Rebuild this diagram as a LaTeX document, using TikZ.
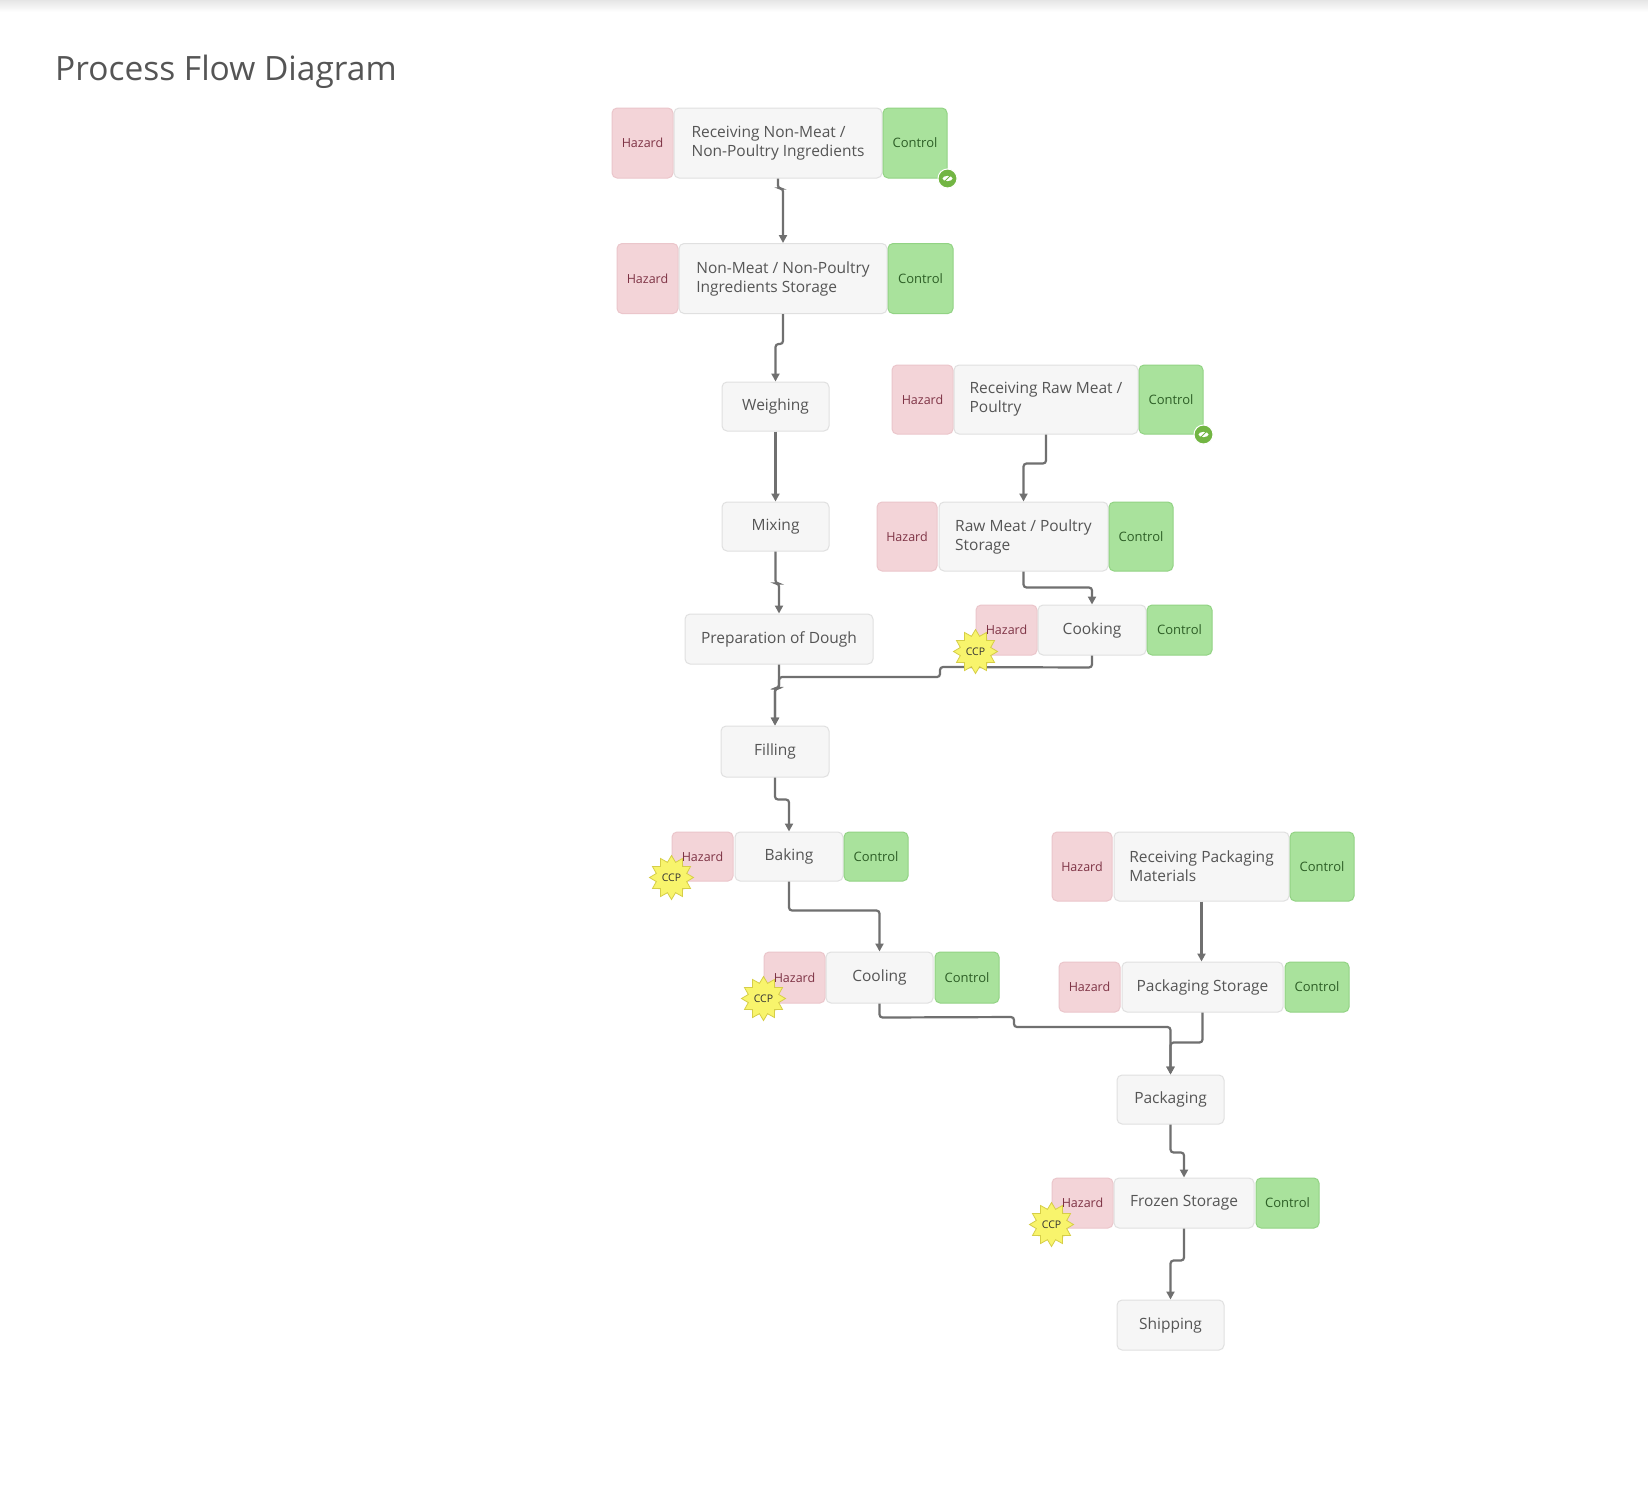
\documentclass[tikz,border=0pt]{standalone}
\usepackage{fontspec}
\setmainfont{Open Sans}
\usetikzlibrary{arrows.meta,shapes.geometric}
\definecolor{boxfill}{HTML}{F6F6F6}
\definecolor{boxline}{HTML}{E0E0E0}
\definecolor{maintext}{HTML}{555555}
\definecolor{hzfill}{HTML}{F3D4D8}
\definecolor{hzline}{HTML}{EBC6CB}
\definecolor{hztext}{HTML}{7E3345}
\definecolor{ctfill}{HTML}{A9E29C}
\definecolor{ctline}{HTML}{92D384}
\definecolor{cttext}{HTML}{2D5E26}
\definecolor{connc}{HTML}{707070}
\definecolor{ccpfill}{HTML}{F8F46C}
\definecolor{ccpline}{HTML}{D6CE48}
\definecolor{leafc}{HTML}{72B543}
\definecolor{titlegray}{HTML}{555555}
\tikzset{
  wh/.style 2 args={minimum width=#1pt, minimum height=#2pt},
  box/.style={draw=boxline, fill=boxfill, rounded corners=5pt, line width=1pt, inner sep=0pt, text=maintext, font=\fontsize{15.5}{19}\selectfont, align=left},
  hz/.style={draw=hzline, fill=hzfill, rounded corners=5pt, line width=1pt, inner sep=0pt, text=hztext, font=\fontsize{12.5}{15}\selectfont},
  ct/.style={draw=ctline, fill=ctfill, rounded corners=5pt, line width=1pt, inner sep=0pt, text=cttext, font=\fontsize{13}{15}\selectfont},
  conn/.style={draw=connc, line width=2.2pt, rounded corners=3pt, -{Triangle[length=8pt,width=8pt]}},
  ccp/.style={star, star points=12, star point ratio=1.4, minimum size=44pt, inner sep=0pt, fill=ccpfill, draw=ccpline, line width=0.8pt, text=black!80, font=\fontsize{10.5}{12}\selectfont},
  leaf/.style={circle, fill=leafc, draw=white, line width=1pt, minimum size=19pt, inner sep=0pt,
    path picture={\fill[white, rotate around={45:(path picture bounding box.center)}] (path picture bounding box.center) ellipse (5pt and 2.6pt);
      \draw[leafc, line width=0.8pt] ([xshift=-3pt,yshift=-3pt]path picture bounding box.center) -- ([xshift=3pt,yshift=3pt]path picture bounding box.center);}}
}
\begin{document}
\begin{tikzpicture}[x=1pt,y=-1pt]
\useasboundingbox (0,0) rectangle (1648,1494);
\fill[white] (0,0) rectangle (1648,1494);
\shade[top color=black!10, bottom color=white] (0,0) rectangle (1648,12);
\node[anchor=base west, font=\fontsize{33.5}{40}\selectfont, text=titlegray, inner sep=0pt] (title) at (55,80) {Process Flow Diagram};

% Receiving Non-Meat
\node[hz,wh={61}{70}] (h1) at (642.5,143) {Hazard};
\node[box,wh={208}{70}] (m1) at (778,143) {Receiving Non-Meat /\\Non-Poultry Ingredients};
\node[ct,wh={64}{70}] (c1) at (915,143) {Control};
% Storage
\node[hz,wh={61}{70}] (h2) at (647.5,278.5) {Hazard};
\node[box,wh={208}{70}] (m2) at (783,278.5) {Non-Meat / Non-Poultry\\Ingredients Storage};
\node[ct,wh={65}{70}] (c2) at (920.5,278.5) {Control};
% Weighing, Mixing
\node[box,wh={107}{49}] (w) at (775.5,406.5) {Weighing};
\node[box,wh={107}{49}] (mx) at (775.5,526.5) {Mixing};
% Receiving raw meat
\node[hz,wh={61}{69}] (h3) at (922.5,399.5) {Hazard};
\node[box,wh={184}{69}] (rm1) at (1046,399.5) {Receiving Raw Meat /\\Poultry};
\node[ct,wh={64}{69}] (c3) at (1171,399.5) {Control};
% Raw meat storage
\node[hz,wh={60}{69}] (h4) at (907,536.5) {Hazard};
\node[box,wh={169}{69}] (rm2) at (1023.5,536.5) {Raw Meat / Poultry\\Storage};
\node[ct,wh={64}{69}] (c4) at (1141,536.5) {Control};
% Cooking
\node[hz,wh={61}{50}] (h5) at (1006.5,630) {Hazard};
\node[box,wh={108}{50}] (ck) at (1092,630) {Cooking};
\node[ct,wh={65}{50}] (c5) at (1179.5,630) {Control};
% Prep, Filling
\node[box,wh={188}{50}] (prep) at (779,639) {Preparation of Dough};
\node[box,wh={108}{51}] (fl) at (775,751.5) {Filling};
% Baking
\node[hz,wh={61}{49}] (h6) at (702.5,856.5) {Hazard};
\node[box,wh={108}{49}] (bk) at (789,856.5) {Baking};
\node[ct,wh={64}{49}] (c6) at (876,856.5) {Control};
% Cooling
\node[hz,wh={61}{51}] (h7) at (794.5,977.5) {Hazard};
\node[box,wh={107}{51}] (cl) at (879.5,977.5) {Cooling};
\node[ct,wh={64}{51}] (c7) at (967,977.5) {Control};
% Receiving packaging
\node[hz,wh={60}{69}] (h8) at (1082,866.5) {Hazard};
\node[box,wh={175}{69}] (rp) at (1201.5,866.5) {Receiving Packaging\\Materials};
\node[ct,wh={64}{69}] (c8) at (1322,866.5) {Control};
% Packaging storage
\node[hz,wh={61}{50}] (h9) at (1089.5,987) {Hazard};
\node[box,wh={161}{50}] (ps) at (1202.5,987) {Packaging Storage};
\node[ct,wh={64}{50}] (c9) at (1317,987) {Control};
% Packaging
\node[box,wh={107}{49}] (pk) at (1170.5,1099.5) {Packaging};
% Frozen storage
\node[hz,wh={61}{50}] (h10) at (1082.5,1203) {Hazard};
\node[box,wh={140}{50}] (fz) at (1184,1203) {Frozen Storage};
\node[ct,wh={63}{50}] (c10) at (1287.5,1203) {Control};
% Shipping
\node[box,wh={107}{50}] (sh) at (1170.5,1325) {Shipping};

% connectors
\draw[conn] (m1.south) -- ++(0,10) -| (m2.north);
\draw[conn] (m2.south) -- ++(0,30) -| (w.north);
\draw[conn] (w.south) -- (mx.north);
\draw[conn] (mx.south) -- ++(0,32) -| (prep.north);
\draw[conn] (rm1.south) -- ++(0,29) -| (rm2.north);
\draw[conn] (rm2.south) -- ++(0,16) -| (ck.north);
\draw[conn] (ck.south) -- ++(0,12) -- (940,667) -- (940,677) -- (779,677) -- (779,688) -| (fl.north);
\draw[conn] (prep.south) -- ++(0,24) -| (fl.north);
\draw[conn] (fl.south) -- ++(0,22) -| (bk.north);
\draw[conn] (bk.south) -- ++(0,29) -| (cl.north);
\draw[conn] (cl.south) -- ++(0,14) -- (1014,1017) -- (1014,1027) -| (pk.north);
\draw[conn] (rp.south) -- (rp.south |- ps.north);
\draw[conn] (ps.south) -- ++(0,30) -| (pk.north);
\draw[conn] (pk.south) -- ++(0,28) -| (fz.north);
\draw[conn] (fz.south) -- ++(0,32) -| (sh.north);

% CCP stars
\node[ccp] (s1) at ([yshift=4pt]h5.south west) {CCP};
\node[ccp] (s2) at ([yshift=4pt]h6.south west) {CCP};
\node[ccp] (s3) at ([yshift=5pt]h7.south west) {CCP};
\node[ccp] (s4) at ([yshift=4pt]h10.south west) {CCP};
% leaf icons
\node[leaf] (l1) at (c1.south east) {};
\node[leaf] (l2) at (c3.south east) {};
\end{tikzpicture}
\end{document}
